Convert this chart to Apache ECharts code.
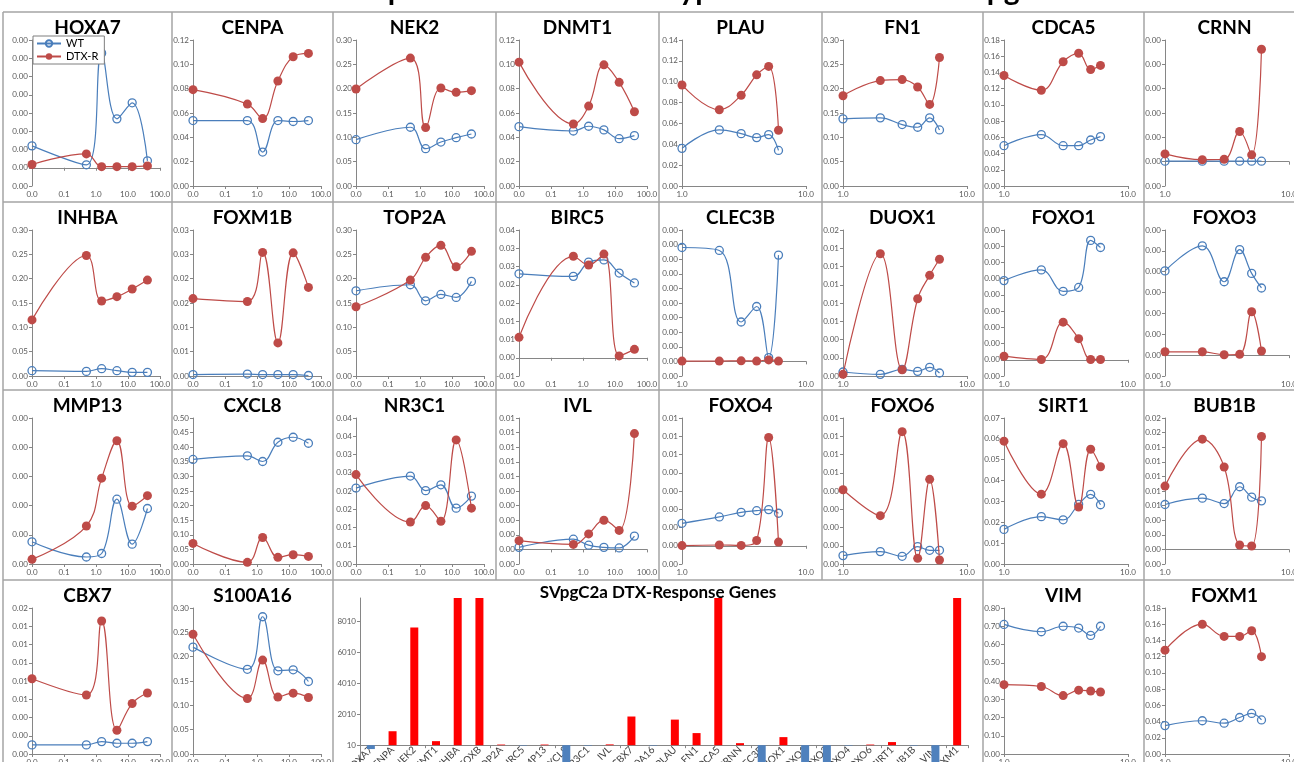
<!DOCTYPE html>
<html>
<head>
<meta charset="utf-8">
<script src="https://cdn.jsdelivr.net/npm/echarts@6/dist/echarts.min.js"></script>
<style>
  html, body { margin: 0; padding: 0; background: #ffffff; }
  #chart { width: 1294px; height: 762px; }
</style>
</head>
<body>
<div id="chart"></div>
<script>
// ---- dose series (0 is plotted at 0.01 on the log axis) ----
const DOSE_LOG = [0.01, 0.5, 1.5, 4.5, 13.5, 40.5];
const DOSE_STEP = [1, 2, 3, 4, 5, 6];

// ---- expression values: WT and DTX-R per gene ----
const HOXA7_WT = [0.0006, 0.00008, 0.00314, 0.00134, 0.00178, 0.00019];
const HOXA7_DTX = [0.00009, 0.00038, 0.00003, 0.00003, 0.00003, 0.00005];
const CENPA_WT = [0.0538, 0.0538, 0.0279, 0.0538, 0.0530, 0.0538];
const CENPA_DTX = [0.0792, 0.0673, 0.0554, 0.0863, 0.1062, 0.1090];
const NEK2_WT = [0.0952, 0.1207, 0.0766, 0.0903, 0.0993, 0.1069];
const NEK2_DTX = [0.1993, 0.2628, 0.1200, 0.2014, 0.1924, 0.1959];
const DNMT1_WT = [0.0488, 0.0452, 0.0491, 0.0461, 0.0389, 0.0414];
const DNMT1_DTX = [0.1018, 0.0510, 0.0657, 0.0996, 0.0852, 0.0610];
const PLAU_WT = [0.0361, 0.0538, 0.0502, 0.0464, 0.0493, 0.0341];
const PLAU_DTX = [0.0969, 0.0731, 0.0870, 0.1066, 0.1147, 0.0535];
const FN1_WT = [0.1380, 0.1400, 0.1262, 0.1207, 0.1400, 0.1152];
const FN1_DTX = [0.1855, 0.2166, 0.2186, 0.2034, 0.1676, 0.2641];
const CDCA5_WT = [0.0497, 0.0634, 0.0497, 0.0497, 0.0567, 0.0609];
const CDCA5_DTX = [0.1362, 0.1180, 0.1532, 0.1636, 0.1437, 0.1487];
const CRNN_WT = [0.00001, 0.00001, 0.00001, 0.00001, 0.00001, 0.00001];
const CRNN_DTX = [0.00016, 0.00004, 0.00005, 0.00062, 0.00014, 0.00231];

const INHBA_WT = [0.0109, 0.0095, 0.0150, 0.0109, 0.0075, 0.0075];
const INHBA_DTX = [0.1153, 0.2476, 0.1542, 0.1630, 0.1787, 0.1971];
const FOXM1B_WT = [0.0003, 0.0004, 0.0003, 0.0003, 0.0003, 0.0001];
const FOXM1B_DTX = [0.0159, 0.0153, 0.0254, 0.0068, 0.0253, 0.0182];
const TOP2A_WT = [0.1751, 0.1875, 0.1545, 0.1676, 0.1614, 0.1944];
const TOP2A_DTX = [0.1422, 0.1971, 0.2438, 0.2685, 0.2246, 0.2562];
const BIRC5_WT = [0.0230, 0.0223, 0.0262, 0.0268, 0.0232, 0.0205];
const BIRC5_DTX = [0.0056, 0.0278, 0.0254, 0.0284, 0.0005, 0.0023];
const CLEC3B_WT = [0.00390, 0.00380, 0.00135, 0.00188, 0.00013, 0.00364];
const CLEC3B_DTX = [0.00001, 0.00001, 0.00002, 0.00001, 0.00005, 0.00001];
const DUOX1_WT = [0.00044, 0.00018, 0.00073, 0.00051, 0.00095, 0.00033];
const DUOX1_DTX = [0.00018, 0.01340, 0.00069, 0.00847, 0.01103, 0.01279];
const FOXO1_WT = [0.00244, 0.00277, 0.00211, 0.00223, 0.00368, 0.00346];
const FOXO1_DTX = [0.00011, 0.00001, 0.00116, 0.00065, 0.00001, 0.00001];
const FOXO3_WT = [0.00202, 0.00262, 0.00176, 0.00253, 0.00196, 0.00161];
const FOXO3_DTX = [0.00008, 0.00008, 0.00001, 0.00002, 0.00104, 0.00010];

const MMP13_WT = [0.00038, 0.00012, 0.00018, 0.00111, 0.00034, 0.00095];
const MMP13_DTX = [0.00008, 0.00065, 0.00147, 0.00211, 0.00099, 0.00117];
const CXCL8_WT = [0.3580, 0.3705, 0.3510, 0.4170, 0.4340, 0.4136];
const CXCL8_DTX = [0.0705, 0.0057, 0.0909, 0.0227, 0.0318, 0.0261];
const NR3C1_WT = [0.0208, 0.0241, 0.0201, 0.0217, 0.0153, 0.0186];
const NR3C1_DTX = [0.0245, 0.0115, 0.0160, 0.0117, 0.0340, 0.0153];
const IVL_WT = [0.00014, 0.00070, 0.00029, 0.00014, 0.00010, 0.00091];
const IVL_DTX = [0.00060, 0.00034, 0.00106, 0.00200, 0.00130, 0.00793];
const FOXO4_WT = [0.00123, 0.00158, 0.00183, 0.00192, 0.00198, 0.00178];
const FOXO4_DTX = [0.00001, 0.00004, 0.00002, 0.00029, 0.00593, 0.00020];
const FOXO6_WT = [0.00046, 0.00068, 0.00042, 0.00095, 0.00075, 0.00075];
const FOXO6_DTX = [0.00407, 0.00265, 0.00725, 0.00031, 0.00464, 0.00022];
const SIRT1_WT = [0.0166, 0.0227, 0.0212, 0.0286, 0.0334, 0.0284];
const SIRT1_DTX = [0.0589, 0.0335, 0.0577, 0.0273, 0.0550, 0.0466];
const BUB1B_WT = [0.00615, 0.00702, 0.00628, 0.00858, 0.00716, 0.00665];
const BUB1B_DTX = [0.00867, 0.01510, 0.01128, 0.00060, 0.00046, 0.01546];

const CBX7_WT = [0.00100, 0.00100, 0.00136, 0.00118, 0.00118, 0.00136];
const CBX7_DTX = [0.00825, 0.00646, 0.01457, 0.00260, 0.00554, 0.00668];
const S100A16_WT = [0.2196, 0.1740, 0.2820, 0.1710, 0.1730, 0.1490];
const S100A16_DTX = [0.2460, 0.1140, 0.1930, 0.1170, 0.1250, 0.1160];
const VIM_WT = [0.710, 0.670, 0.700, 0.690, 0.650, 0.700];
const VIM_DTX = [0.380, 0.370, 0.320, 0.350, 0.345, 0.340];
const FOXM1_WT = [0.035, 0.041, 0.038, 0.045, 0.050, 0.042];
const FOXM1_DTX = [0.128, 0.160, 0.145, 0.145, 0.152, 0.120];

// ---- summary bar chart ----
const BAR_GENES = ['HOXA7', 'CENPA', 'NEK2', 'DNMT1', 'INHBA', 'FOXB', 'TOP2A', 'BIRC5', 'MMP13',
  'CXCL8', 'NR3C1', 'IVL', 'CBX7', 'S100A16', 'PLAU', 'FN1', 'CDCA5', 'CRNN', 'CLEC3B', 'DUOX1',
  'FOXO1', 'FOXO3', 'FOXO4', 'FOXO6', 'SIRT1', 'BUB1B', 'VIM', 'FOXM1'];
const BAR_VALUES = [-250, 900, 7600, 260, 12000, 12000, 40, -30, 40,
  -3000, -30, 50, 1850, -30, 1650, 780, 12000, 130, -3000, 520,
  -3000, -3000, -30, 40, 200, -30, -3000, 12000];
const BAR_AXIS = { min: -1990, max: 9500, step: 2000 };

// ---- panel table: name, WT, DTX-R, dose kind, row, column, y range ----
const PANELS = [
  ['HOXA7', HOXA7_WT, HOXA7_DTX, 'log', 0, 0, -0.0005, 0.0035, 0.0005],
  ['CENPA', CENPA_WT, CENPA_DTX, 'log', 0, 1, 0, 0.12, 0.02],
  ['NEK2', NEK2_WT, NEK2_DTX, 'log', 0, 2, 0, 0.30, 0.05],
  ['DNMT1', DNMT1_WT, DNMT1_DTX, 'log', 0, 3, 0, 0.12, 0.02],
  ['PLAU', PLAU_WT, PLAU_DTX, 'step', 0, 4, 0, 0.14, 0.02],
  ['FN1', FN1_WT, FN1_DTX, 'step', 0, 5, 0, 0.30, 0.05],
  ['CDCA5', CDCA5_WT, CDCA5_DTX, 'step', 0, 6, 0, 0.18, 0.02],
  ['CRNN', CRNN_WT, CRNN_DTX, 'step', 0, 7, -0.0005, 0.0025, 0.0005],
  ['INHBA', INHBA_WT, INHBA_DTX, 'log', 1, 0, 0, 0.30, 0.05],
  ['FOXM1B', FOXM1B_WT, FOXM1B_DTX, 'log', 1, 1, 0, 0.03, 0.005],
  ['TOP2A', TOP2A_WT, TOP2A_DTX, 'log', 1, 2, 0, 0.30, 0.05],
  ['BIRC5', BIRC5_WT, BIRC5_DTX, 'log', 1, 3, -0.005, 0.035, 0.005],
  ['CLEC3B', CLEC3B_WT, CLEC3B_DTX, 'step', 1, 4, -0.0005, 0.0045, 0.0005],
  ['DUOX1', DUOX1_WT, DUOX1_DTX, 'step', 1, 5, 0, 0.016, 0.002],
  ['FOXO1', FOXO1_WT, FOXO1_DTX, 'step', 1, 6, -0.0005, 0.004, 0.0005],
  ['FOXO3', FOXO3_WT, FOXO3_DTX, 'step', 1, 7, -0.0005, 0.003, 0.0005],
  ['MMP13', MMP13_WT, MMP13_DTX, 'log', 2, 0, 0, 0.0025, 0.0005],
  ['CXCL8', CXCL8_WT, CXCL8_DTX, 'log', 2, 1, 0, 0.50, 0.05],
  ['NR3C1', NR3C1_WT, NR3C1_DTX, 'log', 2, 2, 0, 0.04, 0.005],
  ['IVL', IVL_WT, IVL_DTX, 'log', 2, 3, -0.001, 0.009, 0.001],
  ['FOXO4', FOXO4_WT, FOXO4_DTX, 'step', 2, 4, -0.001, 0.007, 0.001],
  ['FOXO6', FOXO6_WT, FOXO6_DTX, 'step', 2, 5, 0, 0.008, 0.001],
  ['SIRT1', SIRT1_WT, SIRT1_DTX, 'step', 2, 6, 0, 0.07, 0.01],
  ['BUB1B', BUB1B_WT, BUB1B_DTX, 'step', 2, 7, -0.002, 0.018, 0.002],
  ['CBX7', CBX7_WT, CBX7_DTX, 'log', 3, 0, 0, 0.016, 0.002],
  ['S100A16', S100A16_WT, S100A16_DTX, 'log', 3, 1, 0, 0.30, 0.05],
  ['VIM', VIM_WT, VIM_DTX, 'step', 3, 6, 0, 0.80, 0.10],
  ['FOXM1', FOXM1_WT, FOXM1_DTX, 'step', 3, 7, 0, 0.18, 0.02]
];

// ---- page geometry ----
const COL_X = [3, 172, 333, 496, 659, 822, 983, 1144, 1305];
const ROW_Y = [12, 202, 390, 580, 772];

const BLUE = '#4A7EBB';
const RED = '#BE4B48';
const AXIS_GREY = '#868686';
const LABEL_GREY = '#595959';
const BORDER_GREY = '#A5A5A5';
const FONT = 'Lato, "Liberation Sans", sans-serif';

// two-decimal labels rounded half away from zero, no "-0.00"
function fmt2(v) {
  const a = Math.round(Math.abs(v) * 100 + 1e-7) / 100;
  return (v < 0 && a > 0 ? '-' : '') + a.toFixed(2);
}

const grids = [], xAxes = [], yAxes = [], series = [], graphics = [];

PANELS.forEach((p, i) => {
  const [name, wt, dtx, kind, row, col, yMin, yMax, yStep] = p;
  const isLog = kind === 'log';
  const dose = isLog ? DOSE_LOG : DOSE_STEP;
  const width = isLog ? 128 : 124;
  const right = COL_X[col + 1] - (isLog ? 12 : 16);
  grids.push({ left: right - width, top: ROW_Y[row] + 28, width: width, height: 146,
    containLabel: false, outerBoundsMode: 'none' });
  xAxes.push({
    type: 'log', logBase: 10, gridIndex: i,
    min: isLog ? 0.01 : 1, max: isLog ? 100 : 10, interval: 1,
    axisLine: { show: true, onZero: true, lineStyle: { color: AXIS_GREY, width: 1 } },
    axisTick: { show: true, length: 3, lineStyle: { color: AXIS_GREY } },
    minorTick: { show: false },
    axisLabel: { fontSize: 8, color: LABEL_GREY, margin: 4, fontFamily: FONT,
      formatter: v => Number(v).toFixed(1) },
    splitLine: { show: false }
  });
  yAxes.push({
    type: 'value', gridIndex: i, min: yMin, max: yMax, interval: yStep,
    axisLine: { show: true, onZero: false, lineStyle: { color: AXIS_GREY, width: 1 } },
    axisTick: { show: true, length: 3, lineStyle: { color: AXIS_GREY } },
    axisLabel: { fontSize: 8, color: LABEL_GREY, margin: 4, fontFamily: FONT, formatter: fmt2 },
    splitLine: { show: false }
  });
  series.push({
    type: 'line', name: 'WT', xAxisIndex: i, yAxisIndex: i,
    data: dose.map((d, k) => [d, wt[k]]),
    smooth: 0.4, symbol: 'circle', symbolSize: 8, showSymbol: true, z: 3,
    lineStyle: { color: BLUE, width: 1.2 },
    itemStyle: { color: 'rgba(255,255,255,0)', borderColor: BLUE, borderWidth: 1.3 }
  });
  series.push({
    type: 'line', name: 'DTX-R', xAxisIndex: i, yAxisIndex: i,
    data: dose.map((d, k) => [d, dtx[k]]),
    smooth: 0.4, symbol: 'circle', symbolSize: 9, showSymbol: true, z: 4,
    lineStyle: { color: RED, width: 1.2 },
    itemStyle: { color: RED, borderColor: RED, borderWidth: 0 }
  });
  graphics.push({
    type: 'text', x: (COL_X[col] + Math.min(COL_X[col + 1], 1294 + 11)) / 2, y: ROW_Y[row] + 16,
    style: { text: name, font: 'bold 19px ' + FONT, fill: '#000', align: 'center', verticalAlign: 'middle' }
  });
});

// summary bar chart across the middle of the last row
const barIdx = PANELS.length;
const BAR_TOP = 598, BAR_HEIGHT = 178;
grids.push({ left: 360, width: 608, top: BAR_TOP, height: BAR_HEIGHT, containLabel: false, outerBoundsMode: 'none' });
// category axis drawn on the zero line
xAxes.push({
  type: 'category', gridIndex: barIdx, data: BAR_GENES,
  axisLine: { show: true, onZero: true, lineStyle: { color: AXIS_GREY } },
  axisTick: { show: true, length: 3, lineStyle: { color: AXIS_GREY } },
  axisLabel: { show: false }
});
// companion axis carrying the gene names, lifted up to the zero line
const zeroOffset = BAR_HEIGHT * (0 - BAR_AXIS.min) / (BAR_AXIS.max - BAR_AXIS.min);
xAxes.push({
  type: 'category', gridIndex: barIdx, data: BAR_GENES, position: 'bottom', offset: -zeroOffset,
  axisLine: { show: false, onZero: false }, axisTick: { show: false },
  axisLabel: { show: true, interval: 0, rotate: 45, fontSize: 10, color: '#404040', margin: 3, fontFamily: FONT }
});
yAxes.push({
  type: 'value', gridIndex: barIdx, min: BAR_AXIS.min, max: BAR_AXIS.max, interval: BAR_AXIS.step,
  axisLine: { show: true, onZero: false, lineStyle: { color: AXIS_GREY } },
  axisTick: { show: true, length: 3, lineStyle: { color: AXIS_GREY } },
  axisLabel: { fontSize: 8, color: LABEL_GREY, margin: 4, fontFamily: FONT, showMaxLabel: false,
    formatter: v => String(v) },
  splitLine: { show: false }
});
series.push({
  type: 'bar', name: 'Response', xAxisIndex: barIdx, yAxisIndex: barIdx,
  data: BAR_VALUES, barWidth: 8, clip: true,
  itemStyle: { color: prm => (prm.value < 0 ? '#4F81BD' : '#FF0000') }
});
graphics.push({
  type: 'text', x: 658, y: 593,
  style: { text: 'SVpgC2a DTX-Response Genes', font: 'bold 17px ' + FONT, fill: '#000',
    align: 'center', verticalAlign: 'middle' }
});

// page heading (runs off the top edge)
graphics.push({
  type: 'text', x: 264, y: 5,
  style: { text: 'Dose Response Curves: Phenotype of the Resistant SVpgC2a', font: 'bold 30px ' + FONT,
    fill: '#000', align: 'left', verticalAlign: 'bottom' }
});

// panel frame lines
const frame = (x1, y1, x2, y2) => graphics.push({
  type: 'line', shape: { x1, y1, x2, y2 }, style: { stroke: BORDER_GREY, lineWidth: 1.5 }, z: 0
});
[12, 202, 390, 580].forEach(y => frame(3, y, 1294, y));
COL_X.slice(0, 8).forEach(x => frame(x, 12, x, 580));
[3, 172, 333, 983, 1144].forEach(x => frame(x, 580, x, 762));

const chart = echarts.init(document.getElementById('chart'), null, { renderer: 'canvas' });
chart.setOption({
  backgroundColor: '#ffffff',
  animation: false,
  textStyle: { fontFamily: FONT },
  legend: {
    data: ['WT', 'DTX-R'], orient: 'vertical', left: 33, top: 36,
    itemWidth: 24, itemHeight: 8, itemGap: 2, padding: [2, 6, 2, 3],
    borderColor: '#7F7F7F', borderWidth: 1, backgroundColor: '#fff',
    textStyle: { fontSize: 11, color: '#000', fontFamily: FONT }
  },
  grid: grids, xAxis: xAxes, yAxis: yAxes, series: series,
  graphic: graphics
});
</script>
</body>
</html>
